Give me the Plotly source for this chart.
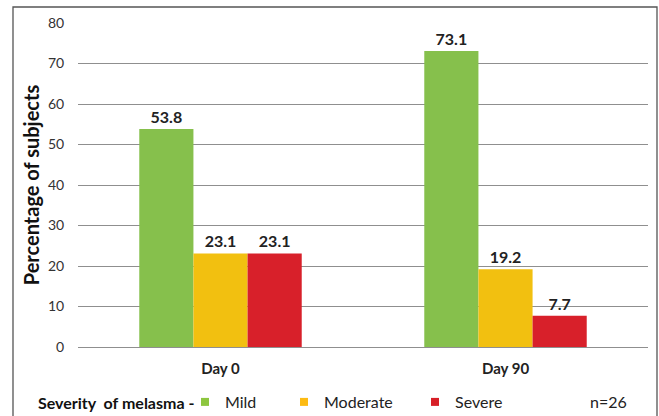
import plotly.graph_objects as go

days = ["Day 0", "Day 90"]
severity = ["Mild", "Moderate", "Severe"]
mild = [53.8, 73.1]
moderate = [23.1, 19.2]
severe = [23.1, 7.7]
y_ticks = [0, 10, 20, 30, 40, 50, 60, 70, 80]

series = [mild, moderate, severe]
bar_colors = ["#86C04C", "#F2C010", "#D8202A"]
legend_colors = ["#8DC63F", "#FDBB13", "#D71F27"]

FONT = "Lato"
W, H = 659, 416
L, R, T, B = 78, 11, 23, 69
pw, ph = W - L - R, H - T - B

def px(x):
    return (x - L) / pw

def py(y):
    return (H - B - y) / ph

fig = go.Figure()
for name, vals, col in zip(severity, series, bar_colors):
    fig.add_trace(go.Bar(
        x=days, y=vals, name=name, marker=dict(color=col, line=dict(width=0)),
        text=[f"{v:.1f}" for v in vals], textposition="outside",
        textfont=dict(family=FONT, size=16, color="#222222", weight="bold"),
        cliponaxis=False, showlegend=False,
    ))

legend_names = ["legend", "legend2", "legend3"]
legend_text_x = [225, 324, 455]
for name, col, lg in zip(severity, legend_colors, legend_names):
    fig.add_trace(go.Scatter(
        x=[None], y=[None], mode="markers", name=name,
        marker=dict(symbol="square", size=8, color=col),
        legend=lg, showlegend=True,
    ))

legend_style = dict(
    orientation="h", yanchor="middle", xanchor="left",
    xref="container", yref="container",
    font=dict(family=FONT, size=16, color="#222222"),
    bgcolor="rgba(0,0,0,0)", borderwidth=0, itemwidth=30,
)
layout_legends = {}
for lg, tx in zip(legend_names, legend_text_x):
    layout_legends[lg] = dict(legend_style, x=(tx - 40) / W, y=1 - 402 / H)

fig.update_layout(
    width=W, height=H,
    margin=dict(l=L, r=R, t=T, b=B, autoexpand=False),
    paper_bgcolor="white", plot_bgcolor="white",
    barmode="group", bargap=0.43, bargroupgap=0,
    font=dict(family=FONT, color="#222222"),
    xaxis=dict(
        showgrid=False, showline=False, zeroline=False,
        ticks="outside", ticklen=8, tickcolor="rgba(0,0,0,0)",
        tickfont=dict(family=FONT, size=15, color="#222222", weight="bold"),
    ),
    yaxis=dict(
        range=[0, 80], tickvals=y_ticks, showgrid=True,
        gridcolor="#8f8f8f", gridwidth=1.3, zeroline=True,
        zerolinecolor="#8f8f8f", zerolinewidth=1.3, showline=False,
        ticks="outside", ticklen=10, tickcolor="rgba(0,0,0,0)",
        tickfont=dict(family=FONT, size=14, color="#333333"),
        title=dict(text="<b>Percentage of subjects</b>", standoff=2,
                   font=dict(family=FONT, size=20, color="#111111")),
    ),
    shapes=[dict(type="rect", xref="paper", yref="paper",
                 x0=px(13), x1=px(657), y0=py(425), y1=py(7),
                 line=dict(color="#555555", width=1.3), fillcolor="rgba(0,0,0,0)", layer="below")],
    annotations=[
        dict(text="<b>Severity  of melasma -</b>", xref="paper", yref="paper",
             x=px(36), y=py(402), xanchor="left", yanchor="middle", showarrow=False,
             font=dict(family=FONT, size=16, color="#111111")),
        dict(text="n=26", xref="paper", yref="paper",
             x=px(588), y=py(401), xanchor="left", yanchor="middle", showarrow=False,
             font=dict(family=FONT, size=16, color="#222222")),
    ],
    **layout_legends,
)

fig.write_html("out.html")
